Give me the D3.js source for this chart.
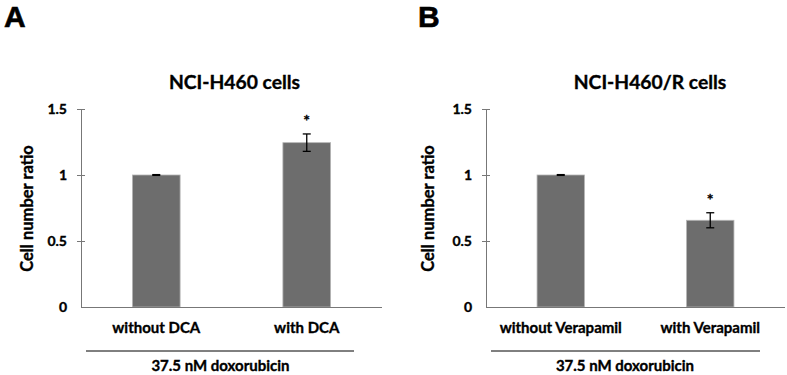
<!DOCTYPE html>
<html>
<head>
<meta charset="utf-8">
<script src="https://cdn.jsdelivr.net/npm/d3@7"></script>
<style>
  html, body { margin: 0; padding: 0; background: #fff; }
  svg { display: block; }
  text { font-family: Lato, "Open Sans", sans-serif; font-weight: bold; fill: #000; stroke: #000; stroke-width: 0.35px; }
</style>
</head>
<body>
<svg id="chart" width="787" height="375"></svg>
<script>
// ---- data ----
const panelLetters = ["A", "B"];
const titles = ["NCI-H460 cells", "NCI-H460/R cells"];
const categoriesA = ["without DCA", "with DCA"];
const categoriesB = ["without Verapamil", "with Verapamil"];
const valuesA = [1.0, 1.245];
const valuesB = [1.0, 0.657];
const errorsA = [0.003, 0.066];
const errorsB = [0.003, 0.057];
const significantA = [false, true];
const significantB = [false, true];
const yTicks = [0, 0.5, 1, 1.5];
const yTickLabels = ["0", "0.5", "1", "1.5"];
const yAxisTitle = "Cell number ratio";
const groupLabel = "37.5 nM doxorubicin";

// ---- layout ----
const layouts = [
  { x0: 81, x1: 382, letterX: 4, ylabX: 27, titleX: 234.5, groupLine: [86, 354], groupX: 220.5 },
  { x0: 486, x1: 785, letterX: 418, ylabX: 428, titleX: 650, groupLine: [491, 760], groupX: 625 }
];
const yTop = 109, yBottom = 307;

const svg = d3.select("#chart");
const datasets = [
  { cats: categoriesA, vals: valuesA, errs: errorsA, sig: significantA },
  { cats: categoriesB, vals: valuesB, errs: errorsB, sig: significantB }
];

datasets.forEach((ds, i) => {
  const L = layouts[i];
  const g = svg.append("g");
  const x = d3.scaleBand().domain(ds.cats).range([L.x0, L.x1]).paddingInner(0.683).paddingOuter(0.3415);
  const y = d3.scaleLinear().domain([0, 1.5]).range([yBottom, yTop]);

  // panel letter
  g.append("text").attr("x", L.letterX).attr("y", 27)
    .style("font-family", "Liberation Sans, Arial, sans-serif").style("stroke-width", "0.6px")
    .style("font-size", "30px").text(panelLetters[i]);

  // title
  g.append("text").attr("x", L.titleX).attr("y", 89).attr("text-anchor", "middle")
    .style("font-size", "19.3px").text(titles[i]);

  // bars
  g.selectAll("rect.bar").data(ds.vals).join("rect")
    .attr("class", "bar")
    .attr("x", (d, j) => x(ds.cats[j]))
    .attr("width", x.bandwidth())
    .attr("y", d => y(d))
    .attr("height", d => y(0) - y(d))
    .attr("fill", "#6d6d6d")
    .attr("stroke", "#b5b5b5").attr("stroke-width", 0.8);

  // error bars
  ds.vals.forEach((v, j) => {
    const cx = x(ds.cats[j]) + x.bandwidth() / 2;
    const e = ds.errs[j];
    const eg = g.append("g").attr("stroke", "#000").attr("stroke-width", 1.3);
    eg.append("line").attr("x1", cx).attr("x2", cx).attr("y1", y(v - e)).attr("y2", y(v + e));
    eg.append("line").attr("x1", cx - 4).attr("x2", cx + 4).attr("y1", y(v + e)).attr("y2", y(v + e));
    eg.append("line").attr("x1", cx - 4).attr("x2", cx + 4).attr("y1", y(v - e)).attr("y2", y(v - e));
    if (ds.sig[j]) {
      g.append("text").attr("x", cx).attr("y", y(v + e) - 8).attr("text-anchor", "middle")
        .style("font-size", "16px").text("*");
    }
  });

  // y axis
  const yAxis = d3.axisLeft(y).tickValues(yTicks).tickFormat((d, k) => yTickLabels[k])
    .tickSizeInner(4).tickSizeOuter(0).tickPadding(10);
  const ya = g.append("g").attr("transform", `translate(${L.x0},0)`).call(yAxis);
  ya.select(".domain").attr("stroke", "#777").attr("stroke-width", 1);
  ya.selectAll(".tick line").attr("stroke", "#777").attr("x1", 4).attr("x2", -4)
    .filter(d => d === 0).remove();
  ya.selectAll(".tick text").style("font-size", "14px").style("font-family", "Lato, sans-serif")
    .style("font-weight", "bold").attr("fill", "#000");

  // x axis
  const xa = g.append("g").attr("transform", `translate(0,${yBottom})`)
    .call(d3.axisBottom(x).tickSize(0).tickPadding(15));
  xa.select(".domain").attr("stroke", "#777").attr("stroke-width", 1)
    .attr("d", `M${L.x0},0.5H${L.x1}`);
  xa.selectAll(".tick text").style("font-size", "15px").style("font-family", "Lato, sans-serif")
    .style("font-weight", "bold").attr("fill", "#000");

  // y axis title
  g.append("text").attr("transform", `translate(${L.ylabX + 6},208.5) rotate(-90)`)
    .attr("text-anchor", "middle").style("font-size", "16.5px").text(yAxisTitle);

  // group line and label
  g.append("line").attr("x1", L.groupLine[0]).attr("x2", L.groupLine[1])
    .attr("y1", 351).attr("y2", 351).attr("stroke", "#000").attr("stroke-width", 1);
  g.append("text").attr("x", L.groupX).attr("y", 371).attr("text-anchor", "middle")
    .style("font-size", "15px").text(groupLabel);
});
</script>
</body>
</html>
